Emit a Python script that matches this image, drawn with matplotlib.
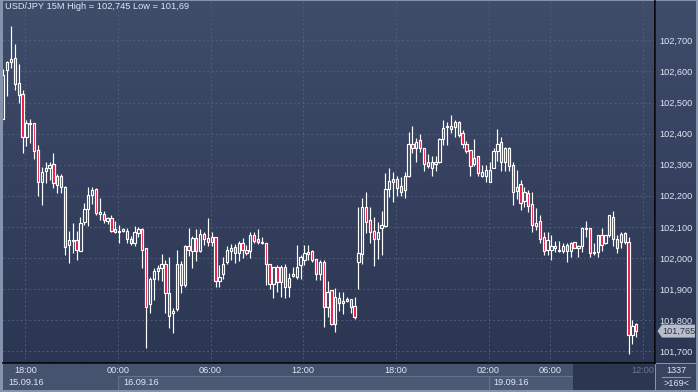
import numpy as np
import matplotlib.pyplot as plt
from matplotlib.colors import LinearSegmentedColormap
from matplotlib.patches import Rectangle, Polygon

plt.rcParams['font.family'] = ['Liberation Sans', 'DejaVu Sans']

# USD/JPY 15M candles (15.09.16 17:00 .. 19.09.16 ~11:00)
open_ = [102.446, 102.604, 102.631, 102.642, 102.563, 102.527, 102.390, 102.431, 102.433, 102.346,
         102.245, 102.281, 102.288, 102.301, 102.235, 102.264, 102.229, 102.042, 102.056, 102.058,
         102.024, 102.117, 102.157, 102.203, 102.221, 102.141, 102.141, 102.120, 102.128, 102.092,
         102.085, 102.092, 102.088, 102.061, 102.047, 102.081, 102.093, 102.031, 101.852, 101.932,
         101.959, 101.969, 101.980, 101.887, 101.822, 101.835, 101.980, 101.913, 102.040, 102.023,
         102.065, 102.024, 102.076, 102.065, 102.050, 102.067, 101.926, 101.948, 101.986, 102.024,
         102.036, 102.015, 102.049, 102.026, 102.023, 102.074, 102.060, 102.047, 102.047, 101.980,
         101.915, 101.970, 101.924, 101.970, 101.906, 101.942, 101.940, 101.978, 101.994, 102.013,
         102.024, 101.997, 101.949, 101.988, 101.844, 101.897, 101.788, 101.870, 101.854, 101.868,
         101.868, 101.846, 101.986, 102.012, 102.163, 102.122, 102.087, 102.060, 102.096, 102.104,
         102.221, 102.254, 102.253, 102.232, 102.219, 102.264, 102.366, 102.353, 102.379, 102.353,
         102.310, 102.290, 102.301, 102.308, 102.383, 102.422, 102.424, 102.422, 102.436, 102.401,
         102.366, 102.347, 102.301, 102.328, 102.265, 102.265, 102.245, 102.288, 102.344, 102.372,
         102.310, 102.353, 102.299, 102.216, 102.237, 102.183, 102.208, 102.173, 102.103, 102.119,
         102.067, 102.026, 102.026, 102.031, 102.024, 102.024, 102.042, 102.023, 102.050, 102.031,
         102.039, 102.092, 102.096, 102.015, 102.020, 102.074, 102.047, 102.074, 102.131, 102.060,
         102.052, 102.081, 102.052, 101.752, 101.788]
high = [102.607, 102.634, 102.745, 102.688, 102.624, 102.540, 102.444, 102.447, 102.433, 102.362,
        102.294, 102.310, 102.310, 102.339, 102.269, 102.269, 102.233, 102.088, 102.114, 102.088,
        102.133, 102.178, 102.227, 102.227, 102.224, 102.192, 102.151, 102.133, 102.138, 102.119,
        102.106, 102.096, 102.096, 102.071, 102.104, 102.101, 102.096, 102.032, 101.938, 101.967,
        101.978, 102.013, 101.994, 102.004, 101.838, 102.026, 101.990, 102.042, 102.096, 102.072,
        102.092, 102.093, 102.085, 102.130, 102.085, 102.068, 101.978, 102.002, 102.040, 102.045,
        102.045, 102.056, 102.063, 102.042, 102.085, 102.085, 102.092, 102.067, 102.047, 101.980,
        101.970, 101.978, 101.978, 101.981, 101.951, 101.970, 102.042, 102.010, 102.042, 102.042,
        102.026, 101.997, 101.994, 101.994, 101.927, 101.897, 101.903, 101.890, 101.890, 101.874,
        101.868, 101.874, 102.164, 102.192, 102.211, 102.163, 102.133, 102.117, 102.151, 102.272,
        102.288, 102.278, 102.264, 102.262, 102.278, 102.406, 102.424, 102.387, 102.399, 102.353,
        102.334, 102.328, 102.328, 102.385, 102.444, 102.436, 102.460, 102.444, 102.441, 102.412,
        102.377, 102.347, 102.383, 102.328, 102.299, 102.299, 102.310, 102.353, 102.414, 102.388,
        102.358, 102.358, 102.310, 102.283, 102.251, 102.227, 102.219, 102.213, 102.160, 102.138,
        102.085, 102.083, 102.074, 102.056, 102.056, 102.049, 102.047, 102.052, 102.052, 102.042,
        102.101, 102.120, 102.096, 102.047, 102.074, 102.096, 102.074, 102.138, 102.152, 102.074,
        102.085, 102.085, 102.069, 101.801, 101.792]
low = [102.446, 102.521, 102.610, 102.540, 102.497, 102.337, 102.360, 102.369, 102.317, 102.200,
       102.170, 102.242, 102.251, 102.226, 102.208, 102.210, 102.010, 101.985, 102.015, 101.994,
       102.023, 102.106, 102.104, 102.174, 102.138, 102.122, 102.112, 102.109, 102.085, 102.080,
       102.047, 102.083, 102.047, 102.042, 102.040, 102.069, 101.967, 101.710, 101.824, 101.865,
       101.929, 101.927, 101.824, 101.776, 101.760, 101.831, 101.889, 101.908, 102.006, 101.969,
       101.991, 102.020, 102.042, 102.040, 102.040, 101.906, 101.908, 101.932, 101.980, 101.994,
       101.985, 101.990, 102.001, 102.010, 101.999, 102.047, 102.044, 102.045, 101.913, 101.899,
       101.870, 101.892, 101.876, 101.870, 101.874, 101.940, 101.932, 101.932, 101.978, 101.994,
       101.988, 101.929, 101.929, 101.779, 101.809, 101.785, 101.763, 101.831, 101.820, 101.858,
       101.824, 101.803, 101.899, 101.980, 102.080, 102.047, 101.975, 101.996, 102.010, 102.101,
       102.197, 102.181, 102.199, 102.199, 102.194, 102.261, 102.337, 102.310, 102.342, 102.281,
       102.288, 102.264, 102.280, 102.305, 102.363, 102.363, 102.403, 102.390, 102.390, 102.353,
       102.337, 102.264, 102.296, 102.264, 102.261, 102.245, 102.245, 102.288, 102.312, 102.281,
       102.281, 102.281, 102.170, 102.190, 102.154, 102.165, 102.149, 102.085, 102.090, 102.047,
       102.010, 102.010, 101.994, 102.020, 102.020, 102.015, 101.988, 102.002, 102.031, 102.004,
       102.020, 102.069, 102.002, 102.010, 102.002, 102.024, 102.045, 102.069, 102.039, 102.015,
       102.031, 102.045, 101.690, 101.723, 101.745]
close = [102.588, 102.630, 102.640, 102.559, 102.523, 102.388, 102.433, 102.433, 102.345, 102.245,
         102.276, 102.288, 102.299, 102.242, 102.264, 102.229, 102.036, 102.058, 102.058, 102.026,
         102.114, 102.157, 102.203, 102.219, 102.146, 102.147, 102.122, 102.128, 102.087, 102.083,
         102.087, 102.087, 102.061, 102.049, 102.084, 102.092, 102.026, 101.844, 101.933, 101.958,
         101.969, 101.980, 101.887, 101.815, 101.831, 101.981, 101.913, 102.040, 102.026, 102.065,
         102.023, 102.076, 102.060, 102.050, 102.067, 101.926, 101.940, 101.980, 102.026, 102.031,
         102.015, 102.049, 102.026, 102.015, 102.074, 102.055, 102.050, 102.052, 101.980, 101.915,
         101.970, 101.924, 101.970, 101.906, 101.935, 101.949, 101.970, 102.002, 102.015, 102.020,
         101.994, 101.949, 101.986, 101.842, 101.890, 101.788, 101.874, 101.854, 101.862, 101.862,
         101.842, 101.811, 102.015, 102.163, 102.117, 102.083, 102.060, 102.083, 102.106, 102.221,
         102.248, 102.245, 102.226, 102.211, 102.264, 102.367, 102.353, 102.372, 102.353, 102.301,
         102.297, 102.308, 102.310, 102.383, 102.417, 102.424, 102.414, 102.436, 102.396, 102.366,
         102.344, 102.297, 102.321, 102.272, 102.276, 102.283, 102.283, 102.344, 102.367, 102.310,
         102.353, 102.297, 102.211, 102.229, 102.178, 102.211, 102.167, 102.106, 102.112, 102.060,
         102.023, 102.058, 102.039, 102.039, 102.025, 102.039, 102.023, 102.049, 102.033, 102.039,
         102.096, 102.096, 102.015, 102.020, 102.074, 102.042, 102.074, 102.138, 102.060, 102.031,
         102.077, 102.052, 101.752, 101.781, 101.765]

# time axis (in bar index units) and price ticks
time_ticks = [5.7, 29.7, 53.7, 77.7, 101.7, 125.7, 141.7, 165.7]
time_labels = ['18:00', '00:00', '06:00', '12:00', '18:00', '02:00', '06:00', '12:00']
day_starts = [-0.1, 29.7, 125.7]
day_labels = ['15.09.16', '16.09.16', '19.09.16']
price_ticks = [101.7, 101.8, 101.9, 102.0, 102.1, 102.2, 102.3, 102.4, 102.5, 102.6, 102.7]

W, H = 698, 392
TXT = '#e0e7f4'
RED = '#e6103c'


def px(x0, y0, x1, y1):
    # figure box from pixel corners (top-left origin)
    return [x0 / W, 1 - y1 / H, (x1 - x0) / W, (y1 - y0) / H]


def fmt(v):
    return f'{v:.3f}'.replace('.', ',')


k = 0.1 / 31.1  # price per pixel
ylim = (102.7 - (363 - 40.3) * k, 102.7 + (40.3 - 1) * k)
xlim = ((3 - 3.3) / 3.86, (655 - 3.3) / 3.86)
bg = LinearSegmentedColormap.from_list('bg', ['#3f4c6a', '#2b3652'])
grad = np.linspace(0, 1, 256).reshape(-1, 1)

fig = plt.figure(figsize=(W / 100, H / 100), dpi=100, facecolor='#8594ad')

# right price panel
side = fig.add_axes(px(656, 1, 696, 363))
side.imshow(grad, cmap=bg, extent=(656, 696, ylim[0], ylim[1]), aspect='auto')
side.set_xlim(656, 696)
side.set_ylim(*ylim)
side.axis('off')
last = close[-1]
hh = 6.5 * k
side.add_patch(Polygon([(657.5, last), (662, last + hh), (695, last + hh), (695, last - hh), (662, last - hh)],
                       closed=True, facecolor='#b8bec9', edgecolor='none'))
side.text(678.5, last, fmt(last), ha='center', va='center', fontsize=6.6, color='#2a3148')

# main chart
ax = fig.add_axes(px(3, 1, 655, 363))
ax.set_zorder(5)
ax.imshow(grad, cmap=bg, extent=(xlim[0], xlim[1], ylim[0], ylim[1]), aspect='auto', zorder=0)
ax.set_xlim(*xlim)
ax.set_ylim(*ylim)

o = np.array(open_)
c = np.array(close)
h = np.array(high)
l = np.array(low)
x = np.arange(len(o))
top = np.maximum(o, c)
bot_ = np.minimum(o, c)
up = c >= o

ax.vlines(x, top, h, color='white', lw=0.85, zorder=3)
ax.vlines(x, l, bot_, color='white', lw=0.85, zorder=3)
ax.bar(x[up], (top - bot_)[up], bottom=bot_[up], width=0.6, facecolor='none',
       edgecolor='white', lw=0.85, zorder=4)
ax.bar(x[~up], (top - bot_)[~up], bottom=bot_[~up], width=0.6, facecolor=RED,
       edgecolor='white', lw=0.85, zorder=4)

ax.set_xticks(time_ticks)
ax.set_yticks(price_ticks)
ax.set_yticklabels([fmt(v) for v in price_ticks])
ax.grid(True, color='#55627f', ls=(0, (2.2, 3)), lw=0.6, zorder=1)
ax.tick_params(axis='x', length=0, labelbottom=False)
ax.tick_params(axis='y', length=0, left=False, labelleft=False, right=True, labelright=True,
               pad=3, labelsize=6.6, labelcolor=TXT)
for s in ['left', 'top']:
    ax.spines[s].set_visible(False)
for s in ['right', 'bottom']:
    ax.spines[s].set_color('black')
    ax.spines[s].set_linewidth(1.2)

hi_s = f'{max(high):.3f}'.rstrip('0').replace('.', ',')
lo_s = f'{min(low):.3f}'.rstrip('0').replace('.', ',')
ax.text(0.003, 0.997, f'USD/JPY 15M High = {hi_s} Low = {lo_s}', transform=ax.transAxes,
        ha='left', va='top', fontsize=6.7, color=TXT)
fig.text(637 / W, 1 - 358 / H, '\u25b2', fontsize=5, color='#5b6782', ha='center', va='center')
fig.text(645 / W, 1 - 357 / H, str(4), fontsize=6.6, color='#d4def0', ha='center', va='center')

# bottom time panel
bax = fig.add_axes(px(3, 364, 655, 390))
bax.set_xlim(*xlim)
bax.set_ylim(0, 1)
bax.axis('off')
bax.add_patch(Rectangle((xlim[0], 0), xlim[1] - xlim[0], 1, facecolor='#46536e', edgecolor='none'))
ends = day_starts[1:] + [xlim[1]]
for i, (s, e) in enumerate(zip(day_starts, ends)):
    if i > 0:
        bax.add_patch(Rectangle((s, 0.0), e - s, 0.52, facecolor='#4b5975', edgecolor='#64728e', lw=0.8))
bax.add_patch(Rectangle((147.6, 0), xlim[1] - 147.6, 1, facecolor='#2b3650', edgecolor='none'))
for t, lab in zip(time_ticks, time_labels):
    col = '#6c7893' if t > 147.6 else TXT
    bax.text(t, 0.76, lab, ha='center', va='center', fontsize=6.6, color=col)
for s, lab in zip(day_starts, day_labels):
    bax.text(s + 1.3, 0.27, lab, ha='left', va='center', fontsize=6.6, color=TXT)

# bottom right corner box
cax = fig.add_axes(px(656, 364, 696, 390))
cax.set_xlim(0, 1)
cax.set_ylim(0, 1)
cax.set_facecolor('#37435f')
cax.set_xticks([])
cax.set_yticks([])
for s in cax.spines.values():
    s.set_visible(False)
cax.text(0.5, 0.76, '1337', ha='center', va='center', fontsize=6.6, color=TXT)
cax.plot([0.15, 0.85], [0.5, 0.5], color='#8896b0', lw=0.8)
cax.text(0.5, 0.24, '>169<', ha='center', va='center', fontsize=6.6, color=TXT)

fig.savefig('out.png', dpi=100, facecolor=fig.get_facecolor())
